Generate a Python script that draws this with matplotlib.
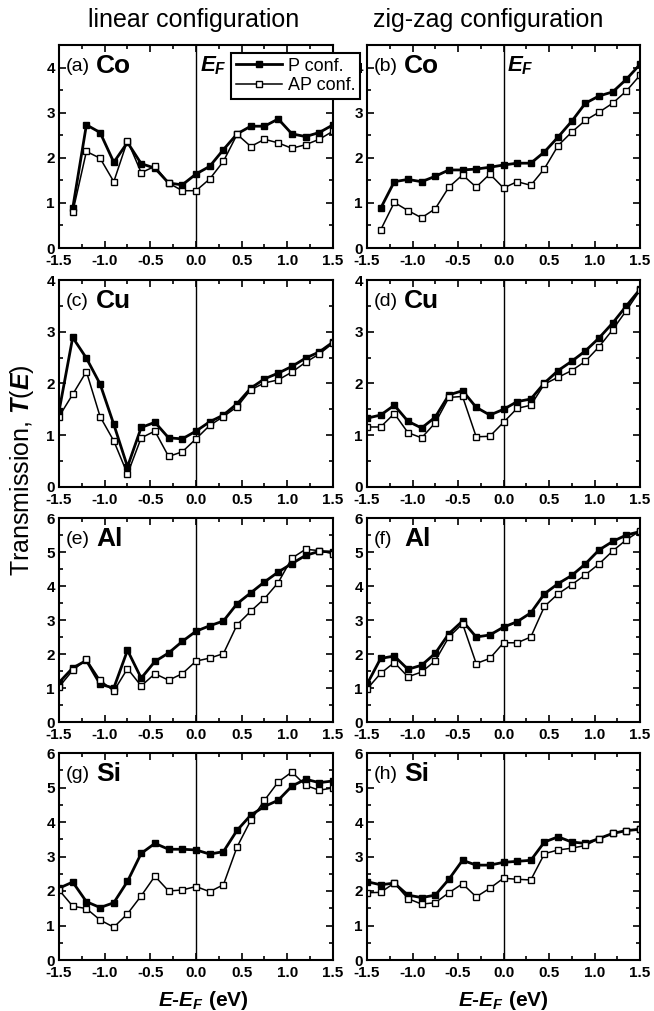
import numpy as np
import matplotlib.pyplot as plt
from matplotlib.ticker import MultipleLocator

plt.rcParams['font.family'] = ['Liberation Sans', 'DejaVu Sans']
plt.rcParams['mathtext.fontset'] = 'custom'
plt.rcParams['mathtext.it'] = 'Liberation Sans:italic:bold'
plt.rcParams['mathtext.bf'] = 'Liberation Sans:bold'

# energies (eV), 0.15 eV grid
E_full = np.round(np.arange(-1.5, 1.5001, 0.15), 2)
E_co = E_full[1:]

# linear configuration
lin_co_p = [0.88, 2.73, 2.56, 1.90, 2.34, 1.87, 1.77, 1.44, 1.40, 1.64, 1.81, 2.18, 2.53, 2.70, 2.70, 2.86, 2.53, 2.47, 2.56, 2.73]
lin_co_ap = [0.79, 2.14, 1.99, 1.47, 2.38, 1.67, 1.81, 1.44, 1.27, 1.27, 1.53, 1.92, 2.52, 2.25, 2.41, 2.33, 2.21, 2.29, 2.41, 2.59]
lin_cu_p = [1.46, 2.89, 2.49, 1.99, 1.21, 0.39, 1.15, 1.25, 0.95, 0.93, 1.08, 1.26, 1.39, 1.61, 1.91, 2.09, 2.20, 2.33, 2.49, 2.61, 2.80]
lin_cu_ap = [1.36, 1.79, 2.23, 1.36, 0.89, 0.25, 0.95, 1.08, 0.59, 0.68, 0.93, 1.19, 1.36, 1.55, 1.88, 2.01, 2.07, 2.22, 2.41, 2.57, 2.78]
lin_al_p = [1.16, 1.59, 1.81, 1.11, 1.00, 2.11, 1.29, 1.78, 2.03, 2.37, 2.67, 2.83, 2.97, 3.48, 3.80, 4.12, 4.41, 4.66, 4.90, 5.02, 5.00]
lin_al_ap = [1.03, 1.52, 1.84, 1.23, 0.91, 1.57, 1.06, 1.42, 1.23, 1.42, 1.79, 1.88, 2.01, 2.86, 3.26, 3.63, 4.10, 4.82, 5.08, 5.04, 4.95]
lin_si_p = [2.08, 2.26, 1.69, 1.52, 1.66, 2.28, 3.09, 3.38, 3.21, 3.21, 3.19, 3.07, 3.14, 3.76, 4.20, 4.45, 4.63, 5.04, 5.24, 5.14, 5.19]
lin_si_ap = [2.03, 1.56, 1.49, 1.16, 0.95, 1.34, 1.86, 2.43, 2.00, 2.03, 2.13, 1.98, 2.18, 3.28, 4.05, 4.63, 5.16, 5.45, 5.06, 4.92, 4.99]

# zig-zag configuration
zz_co_p = [0.88, 1.47, 1.52, 1.47, 1.59, 1.73, 1.73, 1.75, 1.79, 1.84, 1.88, 1.88, 2.13, 2.46, 2.81, 3.21, 3.37, 3.46, 3.74, 4.07]
zz_co_ap = [0.40, 1.01, 0.83, 0.67, 0.87, 1.35, 1.62, 1.35, 1.64, 1.33, 1.47, 1.39, 1.76, 2.27, 2.57, 2.83, 3.01, 3.21, 3.48, 3.83]
zz_cu_p = [1.33, 1.39, 1.58, 1.27, 1.14, 1.35, 1.78, 1.86, 1.54, 1.39, 1.50, 1.65, 1.70, 2.01, 2.25, 2.43, 2.63, 2.88, 3.17, 3.50, 3.82]
zz_cu_ap = [1.16, 1.16, 1.42, 1.05, 0.95, 1.24, 1.73, 1.75, 0.97, 0.98, 1.25, 1.52, 1.58, 1.99, 2.12, 2.25, 2.43, 2.71, 3.04, 3.41, 3.80]
zz_al_p = [1.11, 1.87, 1.94, 1.55, 1.67, 2.02, 2.60, 2.97, 2.50, 2.56, 2.79, 2.95, 3.21, 3.77, 4.07, 4.31, 4.65, 5.06, 5.31, 5.50, 5.60]
zz_al_ap = [0.97, 1.43, 1.75, 1.33, 1.47, 1.80, 2.50, 2.89, 1.72, 1.87, 2.33, 2.33, 2.50, 3.40, 3.77, 4.04, 4.33, 4.65, 5.03, 5.36, 5.62]
zz_si_p = [2.27, 2.18, 2.23, 1.88, 1.81, 1.88, 2.34, 2.89, 2.75, 2.75, 2.83, 2.86, 2.89, 3.42, 3.57, 3.42, 3.38, 3.52, 3.67, 3.75, 3.79]
zz_si_ap = [1.95, 1.96, 2.23, 1.78, 1.62, 1.66, 1.95, 2.21, 1.83, 2.08, 2.37, 2.34, 2.32, 3.08, 3.19, 3.24, 3.32, 3.52, 3.67, 3.75, 3.79]

panels = [
    ('(a)', 'Co', E_co, lin_co_p, lin_co_ap, 4.5),
    ('(b)', 'Co', E_co, zz_co_p, zz_co_ap, 4.5),
    ('(c)', 'Cu', E_full, lin_cu_p, lin_cu_ap, 4),
    ('(d)', 'Cu', E_full, zz_cu_p, zz_cu_ap, 4),
    ('(e)', 'Al', E_full, lin_al_p, lin_al_ap, 6),
    ('(f)', 'Al', E_full, zz_al_p, zz_al_ap, 6),
    ('(g)', 'Si', E_full, lin_si_p, lin_si_ap, 6),
    ('(h)', 'Si', E_full, zz_si_p, zz_si_ap, 6),
]

W, H = 654, 1011
fig = plt.figure(figsize=(W / 100, H / 100), dpi=100)

cols = [(59, 333), (367, 640)]
rows = [(45, 248), (280, 487), (518, 722), (753, 960)]

for i, (lab, elem, x, p, ap, ytop) in enumerate(panels):
    r, c = divmod(i, 2)
    x0, x1 = cols[c]
    y0, y1 = rows[r]
    ax = fig.add_axes([x0 / W, 1 - y1 / H, (x1 - x0) / W, (y1 - y0) / H])
    ax.axvline(0, color='black', lw=1.0)
    hp, = ax.plot(x, p, '-s', color='black', lw=2.0, ms=5, mfc='black', mec='black')
    ha, = ax.plot(x, ap, '-s', color='black', lw=1.1, ms=5, mfc='white', mec='black', mew=1.0)
    ax.set_xlim(-1.5, 1.5)
    ax.set_ylim(0, ytop)
    ax.xaxis.set_major_locator(MultipleLocator(0.5))
    ax.xaxis.set_minor_locator(MultipleLocator(0.25))
    ax.yaxis.set_major_locator(MultipleLocator(1))
    ax.yaxis.set_minor_locator(MultipleLocator(0.5))
    ax.xaxis.set_major_formatter(plt.FuncFormatter(lambda v, pos: f'{v:.1f}'))
    ax.tick_params(which='both', direction='in', top=True, right=True, width=1.2)
    ax.tick_params(which='major', length=5, labelsize=11)
    ax.tick_params(axis='x', which='major', pad=4)
    ax.tick_params(axis='y', which='major', pad=3)
    ax.tick_params(which='minor', length=3)
    for t in ax.get_xticklabels() + ax.get_yticklabels():
        t.set_fontweight('bold')
    for s in ax.spines.values():
        s.set_linewidth(1.5)
    ax.text(0.025, 0.935, lab, transform=ax.transAxes, fontsize=14, va='top', ha='left')
    ax.text(0.135, 0.955, elem, transform=ax.transAxes, fontsize=19, fontweight='bold', va='top', ha='left')
    if r == 0:
        ax.text(0.04, ytop * 0.955, r'$\mathit{E}_{\mathit{F}}$', fontsize=16, va='top', ha='left')

leg = fig.legend([hp, ha], ['P conf.', 'AP conf.'], loc='upper left',
                 bbox_to_anchor=(231 / W, 1 - 53 / H), borderaxespad=0,
                 fancybox=False, edgecolor='black', framealpha=1, fontsize=13,
                 handlelength=2.6, handletextpad=0.3, borderpad=0.25, labelspacing=0.15)
leg.get_frame().set_linewidth(1.5)

fig.text(194 / W, 1 - 20 / H, 'linear configuration', fontsize=18, ha='center', va='center')
fig.text(488 / W, 1 - 20 / H, 'zig-zag configuration', fontsize=18, ha='center', va='center')
fig.text(22 / W, 1 - 470 / H, r'Transmission, $\mathit{T}$($\mathit{E}$)', fontsize=18,
         rotation=90, ha='center', va='center')
for cx in (203, 503):
    fig.text(cx / W, 1 - 1006 / H, r'$\mathit{E}$-$\mathit{E}_{\mathit{F}}$ (eV)', fontsize=15,
             fontweight='bold', ha='center', va='baseline')

fig.savefig('out.png', dpi=100)
